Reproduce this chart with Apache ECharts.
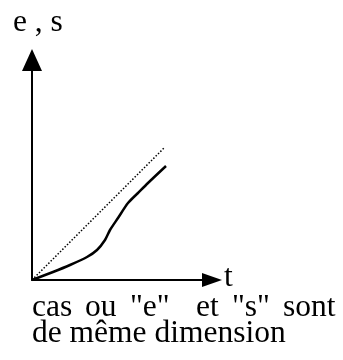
<!DOCTYPE html>
<html>
<head>
<meta charset="utf-8">
<script src="https://cdn.jsdelivr.net/npm/echarts@6/dist/echarts.min.js"></script>
<style>
  html, body { margin: 0; padding: 0; background: #fff; }
  #chart { width: 343px; height: 360px; }
</style>
</head>
<body>
<div id="chart"></div>
<script>
// Output s(t): slow start, then catching up
const tValues = [0, 1.05, 1.9, 2.75, 3.25, 3.65, 3.9, 4.3, 4.8, 5.3, 5.8, 6.7];
const sValues = [0, 0.4, 0.75, 1.15, 1.5, 2.0, 2.5, 3.1, 3.85, 4.35, 4.85, 5.7];
// Reference e(t) = t (dotted diagonal)
const eT = [0, 6.65];
const eValues = [0, 6.65];

const yAxisTitle = 'e , s';
const xAxisTitle = 't';
// first caption line is set word by word (wide spacing), second as one run
const captionWords = ['cas', 'ou', '"e"', 'et', '"s"', 'sont'];
const captionWordX = [32, 85, 130, 196, 232, 283];
const captionLine2 = 'de même dimension';

const serif = '"Liberation Serif", "Times New Roman", serif';
const font = '31.5px ' + serif;

const chart = echarts.init(document.getElementById('chart'), null, { renderer: 'canvas' });

const captionText = captionWords.map((w, i) => ({
  type: 'text', x: captionWordX[i], y: 324,
  style: { text: w, font: font, fill: '#000', textVerticalAlign: 'bottom' }
}));

chart.setOption({
  animation: false,
  backgroundColor: '#fff',
  grid: { left: 32, right: 131, top: 60, bottom: 80, containLabel: false },
  xAxis: {
    type: 'value', min: 0, max: 9,
    axisLine: { show: true, onZero: false, symbol: ['none', 'triangle'], symbolSize: [14, 20],
      lineStyle: { color: '#000', width: 2 } },
    axisTick: { show: false }, axisLabel: { show: false }, splitLine: { show: false }
  },
  yAxis: {
    type: 'value', min: 0, max: 11,
    axisLine: { show: true, onZero: false, symbol: ['none', 'triangle'], symbolSize: [20, 22],
      lineStyle: { color: '#000', width: 2 } },
    axisTick: { show: false }, axisLabel: { show: false }, splitLine: { show: false }
  },
  series: [
    {
      type: 'line',
      data: eT.map((t, i) => [t, eValues[i]]),
      showSymbol: false,
      lineStyle: { color: '#000', width: 1.5, type: [1.5, 1.8] },
      z: 2
    },
    {
      type: 'line',
      data: tValues.map((t, i) => [t, sValues[i]]),
      showSymbol: false,
      smooth: 0.25,
      lineStyle: { color: '#000', width: 2.5 },
      z: 3
    }
  ],
  graphic: [
    { type: 'text', x: 13, y: 39, style: { text: yAxisTitle, font: font, fill: '#000', textVerticalAlign: 'bottom' } },
    { type: 'text', x: 224, y: 294, style: { text: xAxisTitle, font: font, fill: '#000', textVerticalAlign: 'bottom' } },
    ...captionText,
    { type: 'text', x: 32, y: 350, style: { text: captionLine2, font: font, fill: '#000', textVerticalAlign: 'bottom' } }
  ]
});
</script>
</body>
</html>
